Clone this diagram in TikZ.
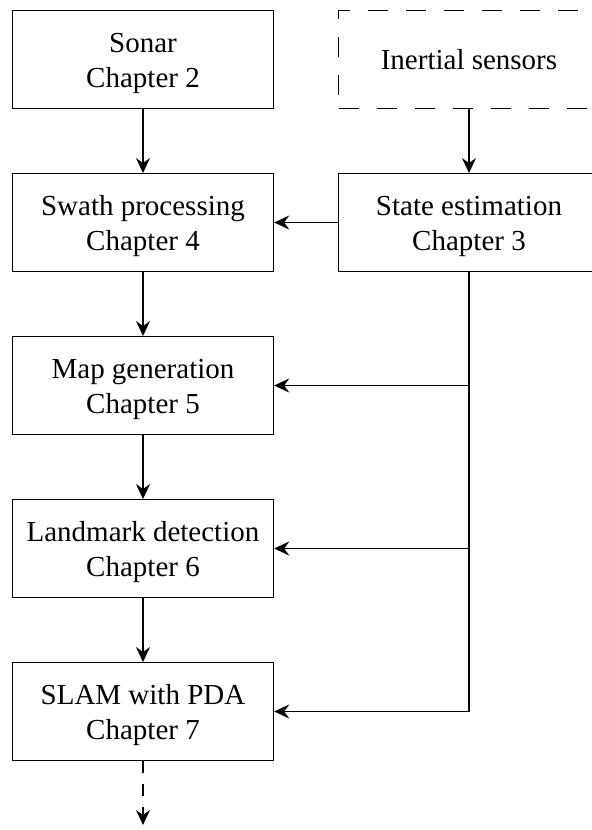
\documentclass[tikz,border=0pt]{standalone}
\usepackage{fontspec}
\setmainfont{Liberation Serif}
\usetikzlibrary{arrows.meta}

\begin{document}
\begin{tikzpicture}[node distance={81.5pt},
    box/.style={draw, line width=0.7pt, minimum width=130.5pt, minimum height=48.75pt,
        align=center, text height=31.5pt, font=\fontsize{14.5pt}{17.5pt}\selectfont},
    sensorbox/.style={box, text height=10pt, dash pattern=on 10pt off 9pt},
    arrow/.style={-{Stealth[length=7.5pt, width=7pt, inset=2.5pt]}, line width=0.7pt}]
    \clip (-71.5pt,29.75pt) rectangle (224.5pt,-385.25pt);
    % processing chain
    \node[box] (sonar) {Sonar\\Chapter 2};
    \node[box] (swath) [below of=sonar] {Swath processing\\Chapter 4};
    \node[box] (map) [below of=swath] {Map generation\\Chapter 5};
    \node[box] (landmark) [below of=map] {Landmark detection\\Chapter 6};
    \node[box] (slam) [below of=landmark] {SLAM with PDA\\Chapter 7};
    \coordinate (next) at ([yshift=-32pt]slam.south);
    % navigation
    \node[sensorbox] (inertial) [right of=sonar, node distance=163pt] {Inertial sensors};
    \node[box] (state) [below of=inertial] {State estimation\\Chapter 3};

    \draw[arrow] (sonar) -- (swath);
    \draw[arrow] (swath) -- (map);
    \draw[arrow] (map) -- (landmark);
    \draw[arrow] (landmark) -- (slam);
    \draw[arrow, dash pattern=on 6pt off 5.5pt] (slam) -- (next);
    \draw[arrow] (inertial) -- (state);
    \draw[arrow] (state) -- (swath);
    \draw[arrow] (state) |- (map);
    \draw[arrow] (state) |- (landmark);
    \draw[arrow] (state) |- (slam);
\end{tikzpicture}
\end{document}
